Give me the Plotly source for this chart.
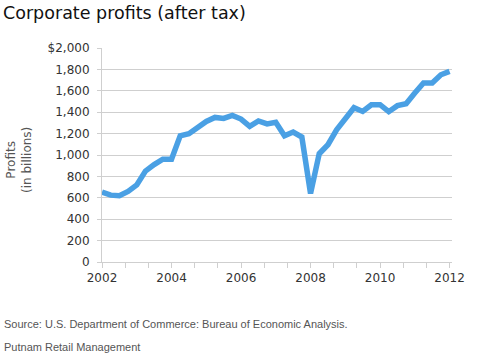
import plotly.graph_objects as go

# Quarterly after-tax corporate profits, 2002Q1 .. 2012Q1 (billions of $)
years = [2002 + i * 0.25 for i in range(41)]
profits = [654, 625, 620, 660, 720, 850, 910, 960, 960,
           1180, 1199, 1252, 1314, 1351, 1342, 1370, 1336, 1267, 1318, 1290,
           1305, 1180, 1215, 1168, 640, 1012, 1096, 1236, 1349, 1442,
           1407, 1470, 1470, 1405, 1461, 1479, 1579, 1673, 1673, 1750, 1781]

y_tickvals = [0, 200, 400, 600, 800, 1000, 1200, 1400, 1600, 1800, 2000]
y_ticktext = ["0", "200", "400", "600", "800", "1,000", "1,200", "1,400",
              "1,600", "1,800", "$2,000"]
x_tickvals = [2002, 2004, 2006, 2008, 2010, 2012]

title_text = "Corporate profits (after tax)"
ytitle_text = "Profits<br>(in billions)"
source_text = "Source: U.S. Department of Commerce: Bureau of Economic Analysis."
credit_text = "Putnam Retail Management"

FONT = "DejaVu Sans"
TICK_COLOR = "#333333"
GRID = "#cfcfcf"

fig = go.Figure()
fig.add_trace(go.Scatter(
    x=years, y=profits, mode="lines",
    line=dict(color="#4aa0e4", width=5.5),
    hoverinfo="skip", showlegend=False,
))

fig.update_layout(
    width=480, height=354,
    margin=dict(l=102, r=28, t=48, b=92),
    paper_bgcolor="white", plot_bgcolor="white",
    font=dict(family=FONT, color=TICK_COLOR),
    xaxis=dict(
        range=[2002, 2012.07],
        tickvals=x_tickvals,
        ticktext=[str(v) for v in x_tickvals],
        ticks="outside", ticklen=5, tickcolor=GRID, tickwidth=1,
        showgrid=False, zeroline=False,
        showline=True, linecolor=GRID, linewidth=1,
        tickfont=dict(family=FONT, size=12, color=TICK_COLOR),
        minor=dict(tick0=2002, dtick=2 / 3, ticks="outside", ticklen=5,
                   tickcolor=GRID, showgrid=False),
    ),
    yaxis=dict(
        range=[0, 2000],
        tickvals=y_tickvals, ticktext=y_ticktext,
        ticks="outside", ticklen=4, tickcolor=GRID, tickwidth=1,
        showgrid=True, gridcolor=GRID, gridwidth=1,
        zeroline=False,
        showline=True, linecolor=GRID, linewidth=1,
        tickfont=dict(family=FONT, size=12, color=TICK_COLOR),
        ticklabelstandoff=5,
    ),
    annotations=[
        dict(text=title_text, x=0, y=1, xref="paper", yref="paper",
             xanchor="left", yanchor="top", showarrow=False,
             font=dict(family=FONT, size=17.5, color="#111111"),
             xshift=-101, yshift=47),
        dict(text=ytitle_text, xref="paper", yref="paper", x=0, y=0.5,
             xanchor="center", yanchor="middle", textangle=-90,
             showarrow=False, xshift=-83, yshift=-5,
             font=dict(family=FONT, size=12, color="#555555")),
        dict(text=source_text, xref="paper", yref="paper", x=0, y=0,
             xanchor="left", yanchor="middle", showarrow=False,
             xshift=-100, yshift=-62,
             font=dict(family="Liberation Sans", size=11, color="#555555")),
        dict(text=credit_text, xref="paper", yref="paper", x=0, y=0,
             xanchor="left", yanchor="middle", showarrow=False,
             xshift=-100, yshift=-85,
             font=dict(family="Liberation Sans", size=11, color="#555555")),
    ],
)

fig.write_html("out.html")
